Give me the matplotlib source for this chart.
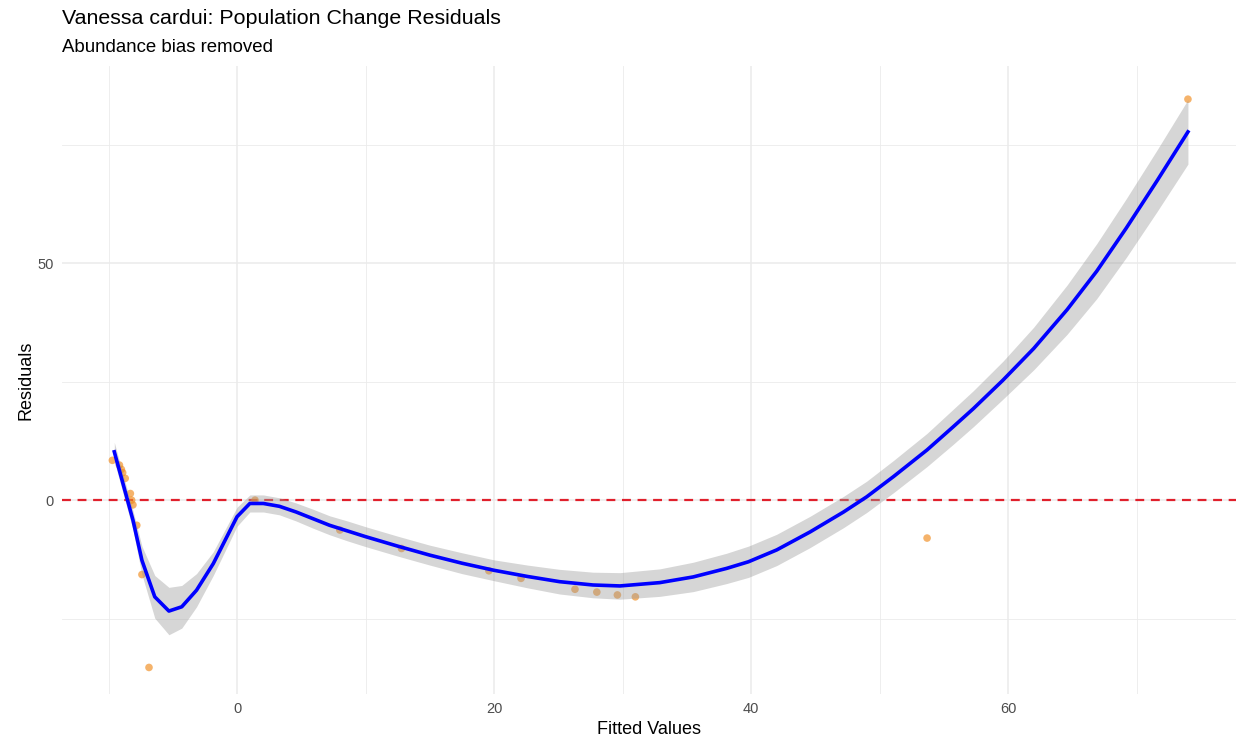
import matplotlib
matplotlib.use("Agg")
import matplotlib.pyplot as plt
from matplotlib.ticker import MultipleLocator

plt.rcParams['font.family'] = ['Liberation Sans', 'DejaVu Sans']

# Observed residuals vs fitted values
fitted = [-9.7, -9.15, -9.0, -8.9, -8.7, -8.3, -8.2, -8.1, -7.8, -7.4, -6.85,
          1.4, 8.0, 12.8, 19.6, 22.1, 26.3, 28.0, 29.6, 31.0, 53.7, 74.0]
resid = [8.4, 7.4, 6.5, 5.8, 4.6, 1.4, 0.0, -1.0, -5.3, -15.7, -35.3,
         0.0, -6.3, -10.2, -14.9, -16.5, -18.8, -19.4, -20.0, -20.4, -8.0, 84.6]

# Loess smooth (fit and standard-error half width)
smooth_x = [-9.55, -8.1, -7.4, -6.4, -5.3, -4.3, -3.15, -1.85, 0.0, 1.0, 2.05,
            3.3, 4.6, 5.9, 7.2, 8.6, 10.0, 12.5, 15.0, 17.5, 20.0, 22.6, 25.1,
            27.7, 29.8, 32.9, 35.5, 38.1, 39.8, 42.0, 44.6, 47.2, 49.0, 51.1,
            53.7, 55.7, 57.3, 59.6, 62.0, 64.6, 66.9, 69.2, 71.6, 74.0]
smooth_y = [10.2, -4.2, -12.7, -20.4, -23.4, -22.5, -19.0, -13.4, -3.5, -0.7, -0.7,
            -1.3, -2.5, -3.9, -5.3, -6.5, -7.7, -9.7, -11.6, -13.3, -14.8, -16.1, -17.2,
            -17.9, -18.1, -17.4, -16.2, -14.4, -13.0, -10.5, -6.7, -2.5, 0.7, 5.0,
            10.6, 15.4, 19.3, 25.3, 32.0, 40.2, 48.3, 57.4, 67.4, 77.7]
smooth_se = [2.0, 2.0, 3.0, 4.5, 5.0, 4.5, 3.5, 2.5, 2.0, 1.8, 1.8,
             1.8, 1.9, 2.0, 2.0, 2.1, 2.1, 2.1, 2.1, 2.2, 2.2, 2.4, 2.6,
             2.7, 2.8, 2.9, 3.1, 3.2, 3.3, 3.3, 3.3, 3.3, 3.3, 3.4,
             3.5, 3.7, 3.8, 4.0, 4.5, 5.2, 5.8, 6.2, 6.5, 6.8]

title = "Vanessa cardui: Population Change Residuals"
subtitle = "Abundance bias removed"
xlabel = "Fitted Values"
ylabel = "Residuals"

W, H = 1241, 740
fig = plt.figure(figsize=(W / 100, H / 100), dpi=100)
left, right, top, bottom = 62, 1236, 66, 694
ax = fig.add_axes([left / W, 1 - bottom / H, (right - left) / W, (bottom - top) / H])

grid_c = '#ebebeb'
ax.xaxis.set_major_locator(MultipleLocator(20))
ax.xaxis.set_minor_locator(MultipleLocator(10))
ax.yaxis.set_major_locator(MultipleLocator(50))
ax.yaxis.set_minor_locator(MultipleLocator(25))
ax.grid(which='major', color=grid_c, lw=1.1, zorder=0)
ax.grid(which='minor', color=grid_c, lw=0.6, zorder=0)
for s in ax.spines.values():
    s.set_visible(False)
ax.tick_params(which='both', length=0, labelsize=10.5, labelcolor='#4d4d4d', pad=6)
ax.set_axisbelow(True)

ax.axhline(0, color='#e0202c', lw=1.6, ls=(0, (4, 3)), zorder=2)
ax.scatter(fitted, resid, s=30, color='#f08a1c', alpha=0.65, edgecolors='none', zorder=3)

lo = [y - s for y, s in zip(smooth_y, smooth_se)]
hi = [y + s for y, s in zip(smooth_y, smooth_se)]
ax.fill_between(smooth_x, lo, hi, color='#999999', alpha=0.4, lw=0, zorder=4)
ax.plot(smooth_x, smooth_y, color='#0000ff', lw=2.6, zorder=5, solid_joinstyle='round')

ax.set_xlim(-13.62, 77.74)
ax.set_ylim(-40.9, 91.6)

ax.set_xlabel(xlabel, fontsize=13, labelpad=3)
ax.set_ylabel(ylabel, fontsize=13, labelpad=2)

fig.text(left / W, 1 - 18 / H, title, fontsize=15.4, va='center', ha='left')
fig.text(left / W, 1 - 47 / H, subtitle, fontsize=13.4, va='center', ha='left')

fig.savefig('out.png', dpi=100, facecolor='white')
